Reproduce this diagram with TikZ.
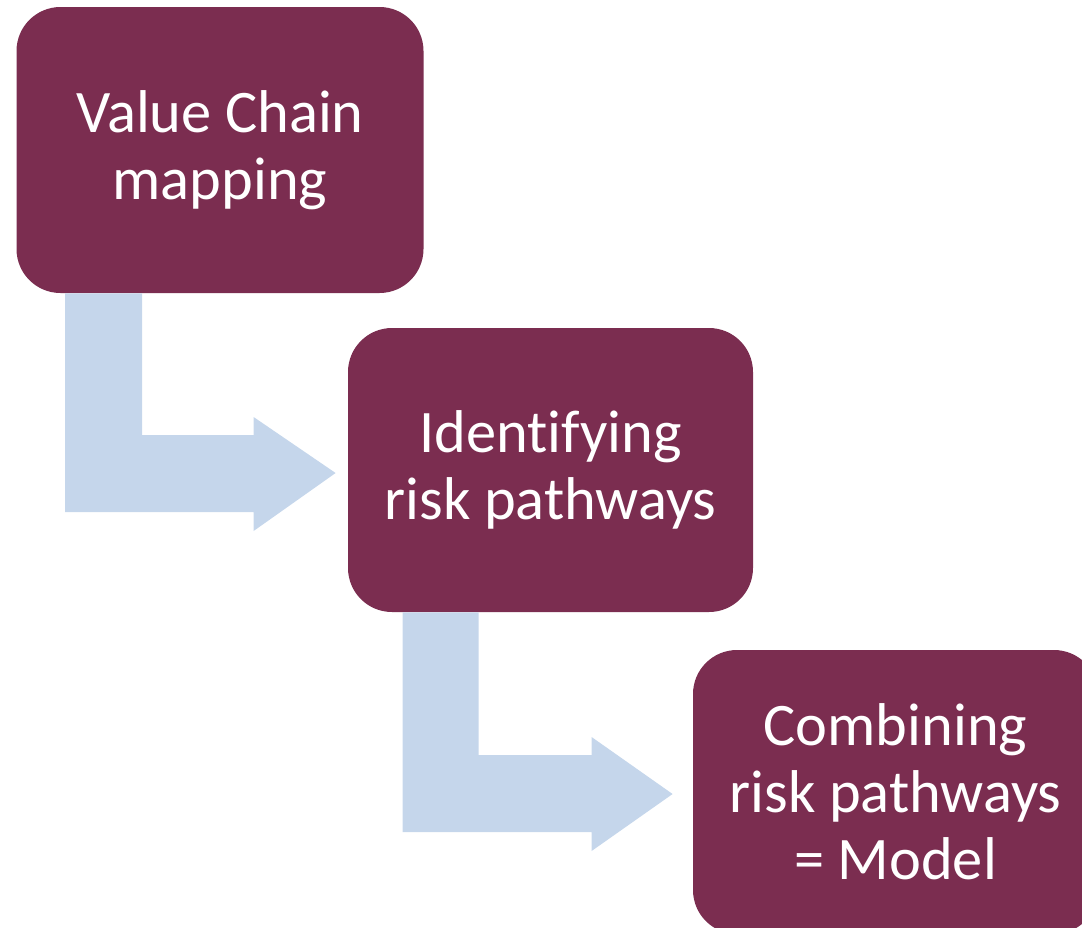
\documentclass[tikz,border=0pt]{standalone}
\usepackage{fontspec}
\setmainfont{Carlito}[Ligatures=NoCommon]
\usepackage{xcolor}
\usepackage{tikz}
\usetikzlibrary{calc, positioning}
\definecolor{berry}{RGB}{123,45,80}
\definecolor{paleblue}{RGB}{197,214,235}
\tikzset{
    stepbox/.style={rectangle, rounded corners=22pt, minimum width=202.5pt, minimum height=142pt, text centered, fill=berry, text=white, align=center, font=\fontsize{30.2}{33.5}\selectfont},
    pathway/.style={fill=paleblue}
}

\begin{document}
\begin{tikzpicture}[x=0.5pt, y=-0.5pt]
    \clip (0,0) rectangle (1082,927);

    % Process Steps
    \node[stepbox, minimum width=203.5pt, minimum height=143pt] (value_chain) at (220,150) {Value Chain\\ mapping};
    \node[stepbox] (risk_paths) at (550.5,470) {Identif\kern0pt ying\\ risk pathways};
    \node[stepbox] (model) at (895.5,792) {Combining\\ risk pathways\\ = Model};

    % Bent arrows between the steps
    \coordinate (start1) at ($(value_chain.south west)+(49,0)$);
    \coordinate (tip1) at ($(risk_paths.west)+(-12,3)$);
    \fill[pathway] (start1) -- ++(77,0) |- ($(tip1)+(-82,-38)$) -- ++(0,-18) -- (tip1) -- ++(-82,58) -- ++(0,-19) -| (start1) -- cycle;

    \coordinate (start2) at ($(risk_paths.south west)+(55,0)$);
    \coordinate (tip2) at ($(model.west)+(-20,2)$);
    \fill[pathway] (start2) -- ++(76,0) |- ($(tip2)+(-81,-39)$) -- ++(0,-18) -- (tip2) -- ++(-81,57) -- ++(0,-19) -| (start2) -- cycle;
\end{tikzpicture}
\end{document}
